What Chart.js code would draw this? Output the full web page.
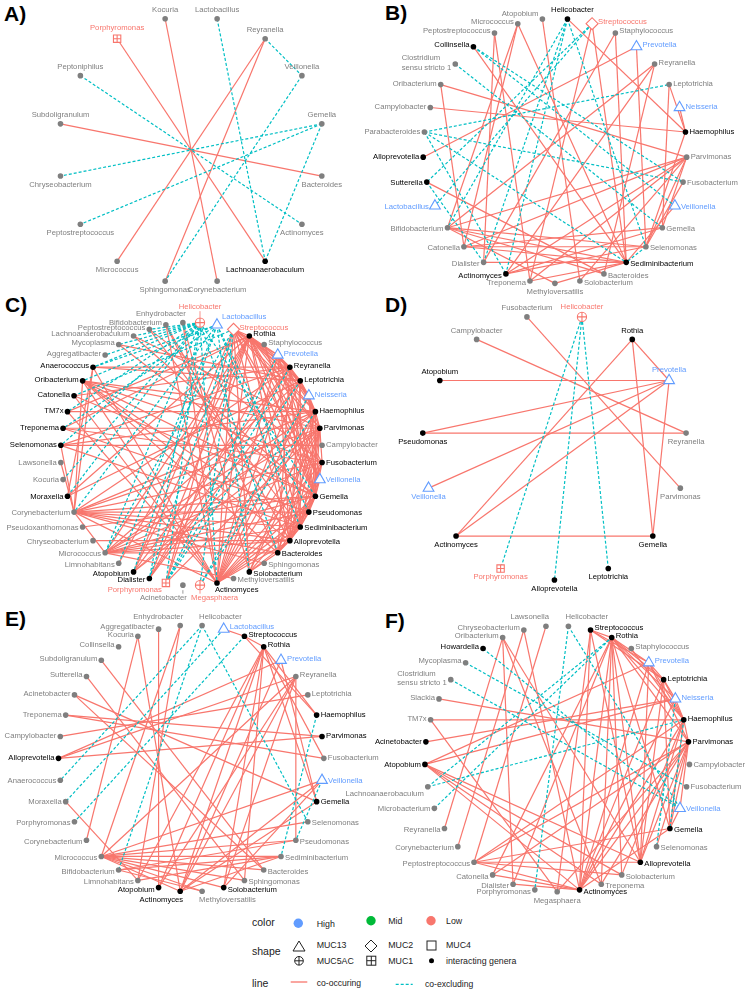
<!DOCTYPE html>
<html>
<head>
<meta charset="utf-8">
<title>Co-occurrence networks of interacting genera</title>
<script src="https://cdn.jsdelivr.net/npm/chart.js@4.4.1/dist/chart.umd.min.js"></script>
<style>
html,body{margin:0;padding:0;background:#ffffff;}
#wrap{position:relative;width:750px;height:991px;overflow:hidden;background:#fff;font-family:"Liberation Sans",Arial,Helvetica,sans-serif;}
#wrap canvas{position:absolute;left:0;top:0;}
.tag{position:absolute;font-weight:bold;font-size:21px;line-height:21px;color:#000;}
#legend{position:absolute;left:0;top:0;}
</style>
</head>
<body>
<div id="wrap">
<div class="tag" style="left:4px;top:3px">A)</div>
<div class="tag" style="left:385px;top:2px">B)</div>
<div class="tag" style="left:5px;top:294px">C)</div>
<div class="tag" style="left:385px;top:294px">D)</div>
<div class="tag" style="left:5px;top:608px">E)</div>
<div class="tag" style="left:385px;top:610px">F)</div>
<svg id="legend" width="750" height="991" font-family="Liberation Sans, Arial, sans-serif">
  <text x="252" y="926" font-size="10.5" fill="#222">color</text>
  <circle cx="298.3" cy="923.3" r="4.7" fill="#619CFF"/>
  <text x="316.7" y="926.5" font-size="8.8" fill="#222">High</text>
  <circle cx="371" cy="920.7" r="4.7" fill="#00BA38"/>
  <text x="388.3" y="924.3" font-size="8.8" fill="#222">Mid</text>
  <circle cx="431" cy="920.7" r="4.7" fill="#F8766D"/>
  <text x="446" y="924.3" font-size="8.8" fill="#222">Low</text>

  <text x="252" y="955" font-size="10.5" fill="#222">shape</text>
  <polygon points="299,941 305,951 293,951" fill="none" stroke="#222" stroke-width="1"/>
  <text x="316.7" y="948.3" font-size="8.8" fill="#222">MUC13</text>
  <polygon points="371,940 377,946 371,952 365,946" fill="none" stroke="#222" stroke-width="1"/>
  <text x="388.3" y="948.3" font-size="8.8" fill="#222">MUC2</text>
  <rect x="427" y="941" width="9" height="9" fill="none" stroke="#222" stroke-width="1"/>
  <text x="446" y="948.3" font-size="8.8" fill="#222">MUC4</text>
  <circle cx="299" cy="960.8" r="4.3" fill="none" stroke="#222" stroke-width="1"/>
  <line x1="294.7" y1="960.8" x2="303.3" y2="960.8" stroke="#222" stroke-width="1"/>
  <line x1="299" y1="956.5" x2="299" y2="965.1" stroke="#222" stroke-width="1"/>
  <text x="316.7" y="964" font-size="8.8" fill="#222">MUC5AC</text>
  <rect x="366.8" y="956.2" width="9" height="9" fill="none" stroke="#222" stroke-width="1"/>
  <line x1="366.8" y1="960.7" x2="375.8" y2="960.7" stroke="#222" stroke-width="1"/>
  <line x1="371.3" y1="956.2" x2="371.3" y2="965.2" stroke="#222" stroke-width="1"/>
  <text x="388.3" y="964" font-size="8.8" fill="#222">MUC1</text>
  <circle cx="431.5" cy="960.7" r="2.5" fill="#000"/>
  <text x="446" y="964" font-size="8.8" fill="#222">interacting genera</text>

  <text x="252" y="986.5" font-size="10.5" fill="#222">line</text>
  <line x1="290.7" y1="982" x2="307.3" y2="982" stroke="#F8766D" stroke-width="1.3"/>
  <text x="316.7" y="985.5" font-size="8.6" fill="#222">co-occuring</text>
  <line x1="395.7" y1="984.3" x2="412.7" y2="984.3" stroke="#00BFC4" stroke-width="1.3" stroke-dasharray="3,2"/>
  <text x="425" y="987" font-size="8.6" fill="#222">co-excluding</text>
</svg>
</div>
<script>
// ---------------- DATA ----------------
// kind codes: g = interacting genus (grey), k = interacting genus (black),
// t = MUC13 / High, d = MUC2 / Low, c = MUC5AC / Low, s = MUC1 / Low
// genera listed clockwise around each circle, starting just right of the top

const GENERA_A = ['Lactobacillus','Reyranella','Veillonella','Gemella','Bacteroides','Actinomyces','Lachnoanaerobaculum','Corynebacterium','Sphingomonas','Micrococcus','Peptostreptococcus','Chryseobacterium','Subdoligranulum','Peptoniphilus','Porphyromonas','Kocuria'];
const KIND_A = ['g','g','g','g','g','g','k','g','g','g','g','g','g','g','s','g'];
const COOCCUR_A = [['Porphyromonas','Lachnoanaerobaculum'],['Kocuria','Corynebacterium'],['Reyranella','Micrococcus'],['Reyranella','Sphingomonas'],['Subdoligranulum','Bacteroides']];
const COEXCLUDE_A = [['Lactobacillus','Lachnoanaerobaculum'],['Reyranella','Veillonella'],['Veillonella','Sphingomonas'],['Peptoniphilus','Actinomyces'],['Gemella','Chryseobacterium'],['Gemella','Peptostreptococcus'],['Gemella','Lachnoanaerobaculum']];

const GENERA_B = ['Helicobacter','Streptococcus','Staphylococcus','Prevotella','Reyranella','Leptotrichia','Neisseria','Haemophilus','Parvimonas','Fusobacterium','Veillonella','Gemella','Selenomonas','Sediminibacterium','Bacteroides','Solobacterium','Methyloversatilis','Treponema','Actinomyces','Dialister','Catonella','Bifidobacterium','Lactobacillus','Sutterella','Alloprevotella','Parabacteroides','Campylobacter','Oribacterium','Clostridium sensu stricto 1','Collinsella','Peptostreptococcus','Micrococcus','Atopobium'];
const KIND_B = ['k','d','g','t','g','g','t','k','g','g','t','g','g','k','g','g','g','g','k','g','g','g','t','k','k','g','g','g','g','k','g','g','g'];
const COOCCUR_B = [
 ['Helicobacter','Haemophilus'],['Atopobium','Solobacterium'],['Micrococcus','Catonella'],['Micrococcus','Sediminibacterium'],
 ['Peptostreptococcus','Dialister'],['Peptostreptococcus','Treponema'],['Collinsella','Sediminibacterium'],['Oribacterium','Parvimonas'],
 ['Oribacterium','Catonella'],['Campylobacter','Haemophilus'],['Alloprevotella','Prevotella'],['Sutterella','Bacteroides'],
 ['Streptococcus','Treponema'],['Streptococcus','Sediminibacterium'],['Staphylococcus','Sediminibacterium'],['Staphylococcus','Dialister'],
 ['Prevotella','Selenomonas'],['Reyranella','Bifidobacterium'],['Reyranella','Bacteroides'],['Reyranella','Actinomyces'],
 ['Leptotrichia','Haemophilus'],['Leptotrichia','Gemella'],['Neisseria','Haemophilus'],['Haemophilus','Selenomonas'],
 ['Bifidobacterium','Parvimonas'],['Bifidobacterium','Selenomonas'],['Bifidobacterium','Sediminibacterium'],['Bifidobacterium','Bacteroides'],
 ['Bifidobacterium','Methyloversatilis'],['Bifidobacterium','Micrococcus'],['Catonella','Selenomonas'],['Catonella','Sediminibacterium'],
 ['Catonella','Gemella'],['Catonella','Parvimonas'],['Actinomyces','Parvimonas'],['Actinomyces','Gemella'],['Actinomyces','Selenomonas'],
 ['Treponema','Parvimonas'],['Treponema','Sediminibacterium'],['Dialister','Sediminibacterium'],['Parvimonas','Selenomonas'],
 ['Parvimonas','Gemella'],['Parvimonas','Solobacterium'],['Fusobacterium','Selenomonas'],['Veillonella','Sediminibacterium'],
 ['Methyloversatilis','Sediminibacterium']
];
const COEXCLUDE_B = [
 ['Helicobacter','Bifidobacterium'],['Helicobacter','Dialister'],['Helicobacter','Actinomyces'],['Helicobacter','Selenomonas'],
 ['Streptococcus','Sutterella'],['Streptococcus','Lactobacillus'],['Collinsella','Fusobacterium'],['Collinsella','Veillonella'],
 ['Clostridium sensu stricto 1','Gemella'],['Parabacteroides','Leptotrichia'],['Parabacteroides','Fusobacterium'],
 ['Parabacteroides','Sediminibacterium'],['Parabacteroides','Actinomyces'],['Selenomonas','Sediminibacterium'],['Sutterella','Dialister']
];

const GENERA_C = ['Helicobacter','Lactobacillus','Streptococcus','Rothia','Staphylococcus','Prevotella','Reyranella','Leptotrichia','Neisseria','Haemophilus','Parvimonas','Campylobacter','Fusobacterium','Veillonella','Gemella','Pseudomonas','Sediminibacterium','Alloprevotella','Bacteroides','Sphingomonas','Solobacterium','Methyloversatilis','Actinomyces','Megasphaera','Acinetobacter','Porphyromonas','Dialister','Atopobium','Limnohabitans','Micrococcus','Chryseobacterium','Pseudoxanthomonas','Corynebacterium','Moraxella','Kocuria','Lawsonella','Selenomonas','Treponema','TM7x','Catonella','Oribacterium','Anaerococcus','Aggregatibacter','Mycoplasma','Lachnoanaerobaculum','Peptostreptococcus','Bifidobacterium','Enhydrobacter'];
const KIND_C = ['c','t','d','k','g','t','k','k','t','k','k','g','k','t','k','k','k','k','k','g','k','g','k','c','g','s','k','k','g','g','g','g','g','k','g','g','k','k','k','k','k','k','g','g','g','g','g','g'];
const COOCCUR_C = [
 ['Corynebacterium','Oribacterium'],['Corynebacterium','Anaerococcus'],['Corynebacterium','Lawsonella'],['Corynebacterium','Haemophilus'],
 ['Corynebacterium','Parvimonas'],['Corynebacterium','Fusobacterium'],['Corynebacterium','Gemella'],['Corynebacterium','Pseudomonas'],
 ['Corynebacterium','Sediminibacterium'],['Corynebacterium','Alloprevotella'],['Corynebacterium','Reyranella'],['Corynebacterium','Micrococcus'],
 ['Corynebacterium','Actinomyces'],['Corynebacterium','Bacteroides'],['Selenomonas','Corynebacterium'],
 ['Micrococcus','Rothia'],['Micrococcus','Leptotrichia'],['Micrococcus','Parvimonas'],['Micrococcus','Gemella'],['Micrococcus','Sediminibacterium'],
 ['Micrococcus','Pseudomonas'],['Micrococcus','Bacteroides'],['Micrococcus','Alloprevotella'],['Micrococcus','Fusobacterium'],['Micrococcus','Haemophilus'],
 ['Oribacterium','Haemophilus'],['Oribacterium','Parvimonas'],['Oribacterium','Fusobacterium'],['Oribacterium','Sediminibacterium'],
 ['Oribacterium','Gemella'],['Oribacterium','Alloprevotella'],['Oribacterium','Actinomyces'],['Oribacterium','Bacteroides'],
 ['Anaerococcus','Leptotrichia'],['Anaerococcus','Moraxella'],['Anaerococcus','Reyranella'],['Anaerococcus','Actinomyces'],
 ['Catonella','Gemella'],['Catonella','Actinomyces'],['Catonella','Reyranella'],['TM7x','Haemophilus'],['TM7x','Actinomyces'],['TM7x','Rothia'],
 ['Treponema','Parvimonas'],['Treponema','Fusobacterium'],['Treponema','Pseudomonas'],['Treponema','Rothia'],
 ['Selenomonas','Campylobacter'],['Selenomonas','Haemophilus'],['Selenomonas','Sediminibacterium'],['Selenomonas','Reyranella'],
 ['Moraxella','Rothia'],['Moraxella','Leptotrichia'],['Mycoplasma','Leptotrichia'],['Mycoplasma','Gemella'],
 ['Lachnoanaerobaculum','Parvimonas'],['Lachnoanaerobaculum','Gemella'],['Peptostreptococcus','Sediminibacterium'],['Peptostreptococcus','Fusobacterium'],
 ['Bifidobacterium','Alloprevotella'],['Bifidobacterium','Bacteroides'],['Bifidobacterium','Actinomyces'],['Enhydrobacter','Solobacterium'],['Enhydrobacter','Actinomyces'],
 ['Atopobium','Reyranella'],['Atopobium','Rothia'],['Atopobium','Haemophilus'],['Atopobium','Streptococcus'],['Atopobium','Parvimonas'],
 ['Dialister','Rothia'],['Dialister','Reyranella'],['Dialister','Prevotella'],['Dialister','Leptotrichia'],
 ['Porphyromonas','Streptococcus'],['Porphyromonas','Rothia'],['Porphyromonas','Parvimonas'],
 ['Actinomyces','Rothia'],['Actinomyces','Reyranella'],['Actinomyces','Leptotrichia'],['Actinomyces','Haemophilus'],['Actinomyces','Parvimonas'],
 ['Actinomyces','Fusobacterium'],['Actinomyces','Gemella'],['Actinomyces','Pseudomonas'],['Actinomyces','Sediminibacterium'],['Actinomyces','Alloprevotella'],
 ['Actinomyces','Streptococcus'],['Actinomyces','Prevotella'],['Actinomyces','Neisseria'],['Actinomyces','Veillonella'],
 ['Rothia','Reyranella'],['Rothia','Leptotrichia'],['Rothia','Haemophilus'],['Rothia','Parvimonas'],['Rothia','Gemella'],['Rothia','Fusobacterium'],
 ['Rothia','Sediminibacterium'],['Rothia','Alloprevotella'],['Rothia','Prevotella'],['Rothia','Neisseria'],['Rothia','Veillonella'],
 ['Streptococcus','Rothia'],['Streptococcus','Prevotella'],['Streptococcus','Reyranella'],['Streptococcus','Leptotrichia'],['Streptococcus','Haemophilus'],
 ['Streptococcus','Gemella'],['Streptococcus','Parvimonas'],['Streptococcus','Alloprevotella'],['Streptococcus','Veillonella'],['Streptococcus','Solobacterium'],
 ['Prevotella','Reyranella'],['Prevotella','Leptotrichia'],['Prevotella','Neisseria'],['Prevotella','Haemophilus'],['Prevotella','Gemella'],
 ['Prevotella','Veillonella'],['Prevotella','Alloprevotella'],['Reyranella','Leptotrichia'],['Reyranella','Haemophilus'],['Reyranella','Gemella'],
 ['Reyranella','Sediminibacterium'],['Reyranella','Bacteroides'],['Leptotrichia','Haemophilus'],['Leptotrichia','Neisseria'],['Leptotrichia','Parvimonas'],
 ['Leptotrichia','Alloprevotella'],['Leptotrichia','Sediminibacterium'],['Neisseria','Haemophilus'],['Neisseria','Veillonella'],['Neisseria','Gemella'],
 ['Haemophilus','Parvimonas'],['Haemophilus','Gemella'],['Haemophilus','Alloprevotella'],['Haemophilus','Solobacterium'],['Haemophilus','Bacteroides'],
 ['Parvimonas','Fusobacterium'],['Parvimonas','Gemella'],['Parvimonas','Pseudomonas'],['Parvimonas','Sediminibacterium'],['Parvimonas','Solobacterium'],
 ['Parvimonas','Alloprevotella'],['Parvimonas','Bacteroides'],['Fusobacterium','Gemella'],['Fusobacterium','Sediminibacterium'],['Fusobacterium','Alloprevotella'],
 ['Veillonella','Gemella'],['Veillonella','Alloprevotella'],['Gemella','Pseudomonas'],['Gemella','Sediminibacterium'],['Gemella','Alloprevotella'],
 ['Gemella','Bacteroides'],['Gemella','Solobacterium'],['Pseudomonas','Sediminibacterium'],['Sediminibacterium','Alloprevotella'],['Sediminibacterium','Bacteroides'],
 ['Alloprevotella','Bacteroides'],['Alloprevotella','Solobacterium'],['Bacteroides','Solobacterium'],['Staphylococcus','Gemella'],
 ['Pseudoxanthomonas','Gemella'],['Chryseobacterium','Alloprevotella'],['Limnohabitans','Rothia'],['Methyloversatilis','Micrococcus'],['Sphingomonas','Corynebacterium']
];
const COEXCLUDE_C = [
 ['Helicobacter','Aggregatibacter'],['Helicobacter','Anaerococcus'],['Helicobacter','TM7x'],['Helicobacter','Selenomonas'],['Helicobacter','Kocuria'],
 ['Helicobacter','Moraxella'],['Helicobacter','Micrococcus'],['Helicobacter','Dialister'],['Helicobacter','Porphyromonas'],['Helicobacter','Actinomyces'],
 ['Helicobacter','Gemella'],['Helicobacter','Bacteroides'],['Helicobacter','Mycoplasma'],['Helicobacter','Lachnoanaerobaculum'],['Helicobacter','Peptostreptococcus'],
 ['Lactobacillus','Anaerococcus'],['Lactobacillus','Oribacterium'],['Lactobacillus','Treponema'],['Lactobacillus','Atopobium'],['Lactobacillus','Limnohabitans'],
 ['Lactobacillus','Solobacterium'],['Lactobacillus','Sediminibacterium'],['Lactobacillus','Pseudomonas'],['Lactobacillus','Corynebacterium'],
 ['Streptococcus','Megasphaera'],['Streptococcus','Dialister'],['Streptococcus','Micrococcus'],['Streptococcus','Catonella'],
 ['Porphyromonas','Prevotella'],['Porphyromonas','Reyranella'],['Porphyromonas','Leptotrichia'],['Megasphaera','Neisseria'],['Megasphaera','Haemophilus']
];

const GENERA_D = ['Helicobacter','Rothia','Prevotella','Reyranella','Parvimonas','Gemella','Leptotrichia','Alloprevotella','Porphyromonas','Actinomyces','Veillonella','Pseudomonas','Atopobium','Campylobacter','Fusobacterium'];
const KIND_D = ['c','k','t','g','g','k','k','k','s','k','t','k','k','g','g'];
const COOCCUR_D = [['Fusobacterium','Parvimonas'],['Campylobacter','Reyranella'],['Atopobium','Prevotella'],['Pseudomonas','Prevotella'],['Pseudomonas','Reyranella'],['Veillonella','Prevotella'],['Actinomyces','Prevotella'],['Actinomyces','Rothia'],['Actinomyces','Gemella'],['Rothia','Prevotella'],['Rothia','Gemella'],['Prevotella','Gemella']];
const COEXCLUDE_D = [['Helicobacter','Porphyromonas'],['Helicobacter','Alloprevotella'],['Helicobacter','Leptotrichia']];

const GENERA_E = ['Helicobacter','Lactobacillus','Streptococcus','Rothia','Prevotella','Reyranella','Leptotrichia','Haemophilus','Parvimonas','Fusobacterium','Veillonella','Gemella','Selenomonas','Pseudomonas','Sediminibacterium','Bacteroides','Sphingomonas','Solobacterium','Methyloversatilis','Actinomyces','Atopobium','Limnohabitans','Bifidobacterium','Micrococcus','Corynebacterium','Porphyromonas','Moraxella','Anaerococcus','Alloprevotella','Campylobacter','Treponema','Acinetobacter','Sutterella','Subdoligranulum','Collinsella','Kocuria','Aggregatibacter','Enhydrobacter'];
const KIND_E = ['g','t','k','k','t','g','g','k','k','g','t','k','g','g','g','g','g','k','g','k','k','g','g','g','g','g','g','g','k','g','g','g','g','g','g','g','g','g'];
const COOCCUR_E = [
 ['Aggregatibacter','Atopobium'],['Enhydrobacter','Micrococcus'],['Enhydrobacter','Limnohabitans'],['Kocuria','Corynebacterium'],['Kocuria','Actinomyces'],
 ['Subdoligranulum','Bacteroides'],['Sutterella','Sphingomonas'],['Acinetobacter','Gemella'],['Acinetobacter','Bacteroides'],['Treponema','Parvimonas'],
 ['Treponema','Fusobacterium'],['Campylobacter','Leptotrichia'],['Alloprevotella','Reyranella'],['Alloprevotella','Prevotella'],['Alloprevotella','Parvimonas'],
 ['Moraxella','Limnohabitans'],['Micrococcus','Sediminibacterium'],['Micrococcus','Bacteroides'],['Micrococcus','Pseudomonas'],['Micrococcus','Solobacterium'],
 ['Micrococcus','Reyranella'],['Micrococcus','Sphingomonas'],['Bifidobacterium','Sediminibacterium'],['Bifidobacterium','Pseudomonas'],['Bifidobacterium','Methyloversatilis'],
 ['Limnohabitans','Rothia'],['Limnohabitans','Sediminibacterium'],['Atopobium','Reyranella'],['Atopobium','Rothia'],['Actinomyces','Rothia'],
 ['Actinomyces','Prevotella'],['Actinomyces','Reyranella'],['Actinomyces','Veillonella'],['Actinomyces','Gemella'],['Actinomyces','Sediminibacterium'],
 ['Actinomyces','Micrococcus'],['Solobacterium','Rothia'],['Solobacterium','Reyranella'],['Solobacterium','Veillonella'],['Sphingomonas','Rothia'],
 ['Methyloversatilis','Micrococcus'],['Streptococcus','Rothia'],['Streptococcus','Haemophilus'],['Rothia','Haemophilus'],['Rothia','Gemella'],
 ['Rothia','Fusobacterium'],['Prevotella','Gemella'],['Reyranella','Pseudomonas'],['Veillonella','Micrococcus'],['Selenomonas','Micrococcus'],
 ['Lactobacillus','Streptococcus']
];
const COEXCLUDE_E = [['Helicobacter','Anaerococcus'],['Lactobacillus','Moraxella'],['Helicobacter','Bifidobacterium'],['Helicobacter','Selenomonas'],['Streptococcus','Porphyromonas'],['Haemophilus','Sediminibacterium'],['Veillonella','Pseudomonas']];

const GENERA_F = ['Helicobacter','Streptococcus','Rothia','Staphylococcus','Prevotella','Leptotrichia','Neisseria','Haemophilus','Parvimonas','Campylobacter','Fusobacterium','Veillonella','Gemella','Selenomonas','Alloprevotella','Solobacterium','Treponema','Actinomyces','Megasphaera','Porphyromonas','Dialister','Catonella','Peptostreptococcus','Corynebacterium','Reyranella','Microbacterium','Lachnoanaerobaculum','Atopobium','Acinetobacter','TM7x','Slackia','Clostridium sensu stricto 1','Mycoplasma','Howardella','Oribacterium','Chryseobacterium','Lawsonella'];
const KIND_F = ['g','k','k','g','t','k','t','k','k','g','g','t','k','g','k','g','g','k','g','g','g','g','g','g','g','g','g','k','k','g','g','g','g','k','g','g','g'];
const COOCCUR_F = [
 ['Chryseobacterium','Actinomyces'],['Lawsonella','Peptostreptococcus'],['Oribacterium','Dialister'],['Oribacterium','Alloprevotella'],['Oribacterium','Treponema'],
 ['Slackia','Parvimonas'],['TM7x','Haemophilus'],['TM7x','Megasphaera'],['Acinetobacter','Neisseria'],['Atopobium','Neisseria'],['Atopobium','Prevotella'],
 ['Atopobium','Solobacterium'],['Atopobium','Treponema'],['Atopobium','Actinomyces'],['Atopobium','Alloprevotella'],['Reyranella','Oribacterium'],
 ['Corynebacterium','Chryseobacterium'],['Peptostreptococcus','Parvimonas'],['Peptostreptococcus','Haemophilus'],['Peptostreptococcus','Gemella'],
 ['Peptostreptococcus','Alloprevotella'],['Peptostreptococcus','Solobacterium'],['Peptostreptococcus','Actinomyces'],['Catonella','Parvimonas'],
 ['Catonella','Actinomyces'],['Catonella','Rothia'],['Dialister','Rothia'],['Dialister','Actinomyces'],['Megasphaera','Parvimonas'],['Megasphaera','Streptococcus'],
 ['Actinomyces','Streptococcus'],['Actinomyces','Rothia'],['Actinomyces','Prevotella'],['Actinomyces','Leptotrichia'],['Actinomyces','Neisseria'],
 ['Actinomyces','Haemophilus'],['Actinomyces','Parvimonas'],['Actinomyces','Gemella'],['Treponema','Rothia'],['Treponema','Parvimonas'],
 ['Solobacterium','Rothia'],['Solobacterium','Haemophilus'],['Alloprevotella','Streptococcus'],['Alloprevotella','Rothia'],['Alloprevotella','Prevotella'],
 ['Alloprevotella','Leptotrichia'],['Alloprevotella','Haemophilus'],['Alloprevotella','Parvimonas'],['Selenomonas','Parvimonas'],['Gemella','Rothia'],
 ['Gemella','Leptotrichia'],['Gemella','Haemophilus'],['Gemella','Parvimonas'],['Streptococcus','Rothia'],['Streptococcus','Prevotella'],
 ['Streptococcus','Leptotrichia'],['Rothia','Prevotella'],['Rothia','Leptotrichia'],['Rothia','Neisseria'],['Rothia','Haemophilus'],['Rothia','Parvimonas'],
 ['Staphylococcus','Haemophilus'],['Prevotella','Leptotrichia'],['Prevotella','Haemophilus'],['Prevotella','Parvimonas'],['Leptotrichia','Neisseria'],
 ['Leptotrichia','Haemophilus'],['Neisseria','Haemophilus'],['Haemophilus','Parvimonas'],['Parvimonas','Veillonella'],['Veillonella','Gemella']
];
const COEXCLUDE_F = [['Howardella','Veillonella'],['Mycoplasma','Fusobacterium'],['Clostridium sensu stricto 1','Veillonella'],['Lachnoanaerobaculum','Rothia'],['Lachnoanaerobaculum','Haemophilus'],['Microbacterium','Rothia'],['Helicobacter','Porphyromonas'],['Helicobacter','Veillonella'],['Neisseria','Selenomonas'],['Haemophilus','Gemella']];

// ---------------- LAYOUT / STYLE ----------------
const RED = '#F8766D', TEAL = '#00BFC4', BLUE = '#619CFF', GREY = '#7F7F7F', BLACK = '#000000';
const PAGE_W = 750, PAGE_H = 991;
const PANELS = [
 {genera:GENERA_A, kind:KIND_A, occ:COOCCUR_A, exc:COEXCLUDE_A, cx:188, cy:145.5, r:135.5, mode:'simple', nudge:{}},
 {genera:GENERA_B, kind:KIND_B, occ:COOCCUR_B, exc:COEXCLUDE_B, cx:558.5, cy:145.7, r:134.5, mode:'ring',
  nudge:{'Helicobacter':{dx:5,dy:-9,align:'center'}, 'Atopobium':{dx:-4,dy:-5,align:'right'}}},
 {genera:GENERA_C, kind:KIND_C, occ:COOCCUR_C, exc:COEXCLUDE_C, cx:187.8, cy:453.3, r:133.5, mode:'ring',
  nudge:{'Helicobacter':{dx:0,dy:-16,align:'center',seg:true}, 'Lactobacillus':{dx:5,dy:-8,align:'left'},
         'Actinomyces':{dx:-2,dy:7,align:'left'}, 'Megasphaera':{dx:-9,dy:13,align:'left',seg:true},
         'Acinetobacter':{dx:4,dy:13,align:'right',seg:true}, 'Porphyromonas':{dx:-4,dy:7,align:'right'}}},
 {genera:GENERA_D, kind:KIND_D, occ:COOCCUR_D, exc:COEXCLUDE_D, cx:558, cy:446.3, r:135, mode:'simple', nudge:{}},
 {genera:GENERA_E, kind:KIND_E, occ:COOCCUR_E, exc:COEXCLUDE_E, cx:187.5, cy:762.3, r:135.3, mode:'ring', nudge:{}},
 {genera:GENERA_F, kind:KIND_F, occ:COOCCUR_F, exc:COEXCLUDE_F, cx:560.8, cy:762.7, r:135, mode:'ring',
  nudge:{'Lachnoanaerobaculum':{dx:-4,dy:7,align:'right'}}}
];

function labelColor(k){ return k==='g'?GREY : k==='k'?BLACK : k==='t'?BLUE : RED; }

const nodeLabels = {
  id:'nodeLabels',
  afterDatasetsDraw(chart){
    const cfg = chart.options.plugins.nodeLabels;
    if(!cfg || !cfg.nodes) return;
    const ctx = chart.ctx, sx = chart.scales.x, sy = chart.scales.y;
    ctx.save();
    ctx.font = '7.7px "Liberation Sans", Arial, sans-serif';
    ctx.textBaseline = 'middle';
    cfg.nodes.forEach(nd => {
      const px = sx.getPixelForValue(nd.x), py = sy.getPixelForValue(nd.y);
      const big = nd.kind!=='g' && nd.kind!=='k';
      const c = nd.x, s = nd.y;
      let align, tx, ty;
      if(cfg.mode==='simple'){
        align='center'; tx=px; ty = s>0.15 ? py-(big?10.5:9) : py+8.5;
      } else if(Math.abs(c)<0.03){
        align='center'; tx=px; ty=py-Math.sign(s)*9;
      } else if(Math.abs(c)<0.12){
        align = c>0?'left':'right'; tx = px+(c>0?-3:3); ty = py-Math.sign(s)*(big?11:9);
      } else {
        const off = big?6:4;
        align = c>0?'left':'right'; tx = px+(c>0?off:-off); ty = py - s*2;
      }
      const o = cfg.nudge[nd.name];
      const col = labelColor(nd.kind);
      if(o){
        align = o.align||align; tx = px+o.dx; ty = py+o.dy;
        if(o.seg){
          const sg = Math.sign(o.dy);
          ctx.strokeStyle = col; ctx.lineWidth = 0.8; ctx.beginPath();
          ctx.moveTo(px, py+sg*5); ctx.lineTo(px, ty-sg*4.5); ctx.stroke();
        }
      }
      ctx.fillStyle = col;
      const lines = nd.name.replace(' sensu', '\nsensu').split('\n');
      if(lines.length===1){
        ctx.textAlign = align; ctx.fillText(nd.name, tx, ty);
      } else {
        const w = Math.max(...lines.map(l=>ctx.measureText(l).width));
        const left = align==='right' ? tx-w : align==='center' ? tx-w/2 : tx;
        ctx.textAlign='left';
        lines.forEach((l,i)=>ctx.fillText(l, left, ty+(i-(lines.length-1)/2)*9.5));
      }
    });
    ctx.restore();
  }
};

const wrap = document.getElementById('wrap');

function buildPanel(P){
  const n = P.genera.length;
  const nodes = P.genera.map((name,k)=>{
    const a = Math.PI/2 - Math.PI/n - 2*Math.PI*k/n;
    return {name, kind:P.kind[k], x:Math.cos(a), y:Math.sin(a)};
  });
  const byName = {};
  nodes.forEach(d=>byName[d.name]=d);
  const datasets = [];
  const edge = (pair, color, dash, order) => {
    const a = byName[pair[0]], b = byName[pair[1]];
    if(!a || !b){ console.warn('missing node', pair); return; }
    datasets.push({data:[{x:a.x,y:a.y},{x:b.x,y:b.y}], showLine:true, fill:false,
      borderColor:color, borderWidth:1.2, borderDash:dash, pointRadius:0, pointHoverRadius:0, order});
  };
  P.occ.forEach(p=>edge(p, RED, [], 3));
  P.exc.forEach(p=>edge(p, TEAL, [3,2], 2));
  const pick = k => nodes.filter(d=>d.kind===k).map(d=>({x:d.x,y:d.y}));
  const pts = (data, style, radius, bg, border, bw, order) => ({data, showLine:false, pointStyle:style,
     pointRadius:radius, pointHoverRadius:radius, pointBackgroundColor:bg, backgroundColor:bg,
     pointBorderColor:border, borderColor:border, pointBorderWidth:bw, borderWidth:bw, order});
  datasets.push(pts(pick('g'), 'circle', 2.8, GREY, GREY, 0, 0));
  datasets.push(pts(pick('k'), 'circle', 2.8, BLACK, BLACK, 0, 0));
  datasets.push(pts(pick('t'), 'triangle', 6.2, '#ffffff', BLUE, 1.1, 0));
  datasets.push(pts(pick('d'), 'rectRot', 6, '#ffffff', RED, 1.1, 0));
  datasets.push(pts(pick('c'), 'circle', 4.6, '#ffffff', RED, 1.1, 0));
  datasets.push(pts(pick('c'), 'cross', 4.6, RED, RED, 1.1, -1));
  datasets.push(pts(pick('s'), 'rect', 5.2, '#ffffff', RED, 1.1, 0));
  datasets.push(pts(pick('s'), 'cross', 3.7, RED, RED, 1.1, -1));

  const cv = document.createElement('canvas');
  cv.width = PAGE_W; cv.height = PAGE_H;
  cv.style.width = PAGE_W+'px'; cv.style.height = PAGE_H+'px';
  wrap.appendChild(cv);
  new Chart(cv, {
    type:'scatter',
    data:{datasets},
    options:{
      responsive:false, animation:false, devicePixelRatio:1, events:[],
      layout:{padding:0},
      plugins:{legend:{display:false}, tooltip:{enabled:false},
               nodeLabels:{nodes, mode:P.mode, nudge:P.nudge}},
      scales:{
        x:{type:'linear', display:false, min:-P.cx/P.r, max:(PAGE_W-P.cx)/P.r},
        y:{type:'linear', display:false, min:-(PAGE_H-P.cy)/P.r, max:P.cy/P.r}
      }
    },
    plugins:[nodeLabels]
  });
}
PANELS.forEach(buildPanel);
</script>
</body>
</html>
